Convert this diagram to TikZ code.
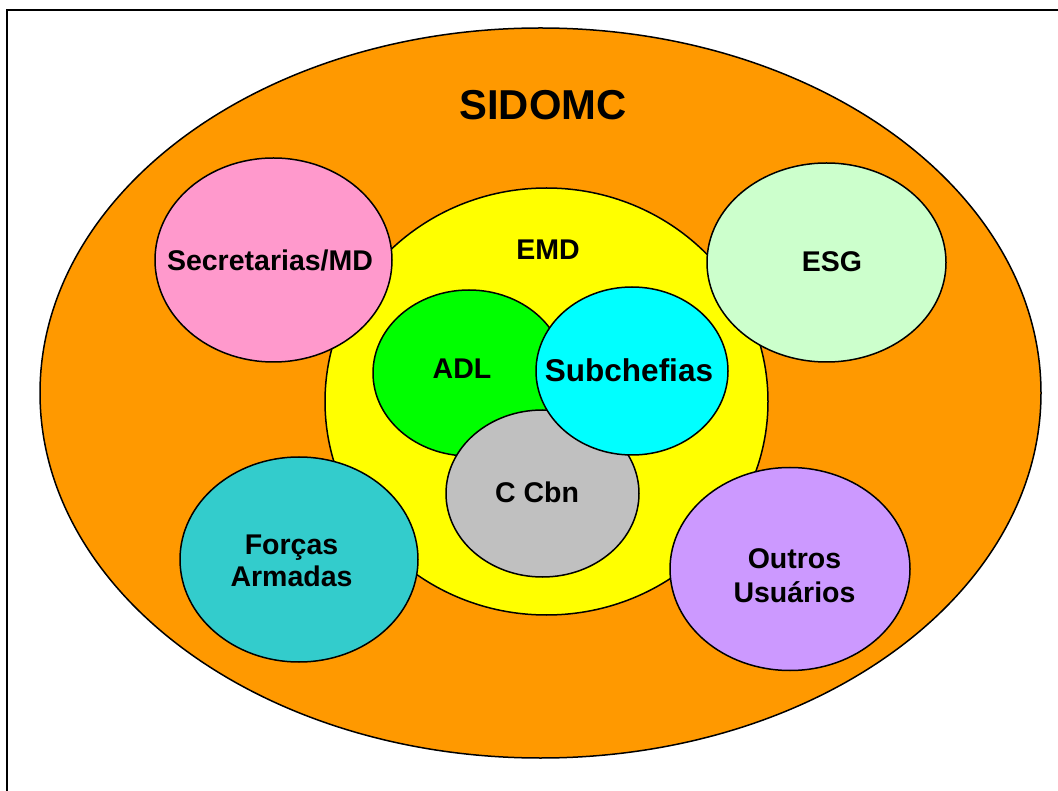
\documentclass[tikz,border=0pt]{standalone}
\usepackage{fontspec}
\setmainfont{Liberation Sans}
\usetikzlibrary{shapes.geometric}
\definecolor{cOrange}{HTML}{FF9900}
\definecolor{cYellow}{HTML}{FFFF00}
\definecolor{cPink}{HTML}{FF99CC}
\definecolor{cMint}{HTML}{CCFFCC}
\definecolor{cTeal}{HTML}{33CCCC}
\definecolor{cLilac}{HTML}{CC99FF}
\definecolor{cGreen}{HTML}{00FF00}
\definecolor{cCyan}{HTML}{00FFFF}
\definecolor{cGray}{HTML}{C0C0C0}
\tikzset{
  blob/.style={ellipse, draw=black, line width=1.5pt, inner sep=0pt, outer sep=0pt},
  lbl/.style={anchor=base, inner sep=0pt, font=\fontsize{28.5}{34}\selectfont\bfseries},
  biglbl/.style={anchor=base, inner sep=0pt, font=\fontsize{31.5}{38}\selectfont\bfseries},
  titlelbl/.style={anchor=base, inner sep=0pt, font=\fontsize{41.8}{50}\selectfont\bfseries}
}
\begin{document}
\begin{tikzpicture}[x=1pt,y=-1pt]
\useasboundingbox (0,0) rectangle (1058,791);
% frame
\coordinate (fbl) at (7,791);
\coordinate (ftl) at (7,10);
\coordinate (ftr) at (1058,10);
\draw[line width=2pt] (fbl) -- (ftl) -- (ftr);
% outer
\node[blob, fill=cOrange, minimum width=1001pt, minimum height=730pt] (sidomc) at (540.5,393) {};
\node[titlelbl] (tsidomc) at (543,120) {SIDOMC};
% EMD
\node[blob, fill=cYellow, minimum width=443pt, minimum height=427pt] (emd) at (546.5,401.5) {};
\node[lbl] (temd) at (548,260) {EMD};
% surrounding
\node[blob, fill=cPink, minimum width=237pt, minimum height=204pt] (sec) at (273.5,260) {};
\node[lbl] (tsec) at (270,271) {Secretarias/MD};
\node[blob, fill=cMint, minimum width=239pt, minimum height=199pt] (esg) at (826.5,262.5) {};
\node[lbl] (tesg) at (832,272) {ESG};
\node[blob, fill=cTeal, minimum width=238pt, minimum height=205pt] (fa) at (299,559.5) {};
\node[lbl] (tfa1) at (291.5,554) {Forças};
\node[lbl] (tfa2) at (291.5,586) {Armadas};
\node[blob, fill=cLilac, minimum width=240pt, minimum height=203pt] (ou) at (790,569) {};
\node[lbl] (tou1) at (794.5,568) {Outros};
\node[lbl] (tou2) at (794.5,602) {Usuários};
% inner
\node[blob, fill=cGreen, minimum width=192pt, minimum height=166pt] (adl) at (469,373) {};
\node[lbl] (tadl) at (462,379) {ADL};
\node[blob, fill=cGray, minimum width=193pt, minimum height=167pt] (ccbn) at (542.5,493.5) {};
\node[lbl] (tccbn) at (537,503) {C Cbn};
\node[blob, fill=cCyan, minimum width=192pt, minimum height=168pt] (sub) at (632,371) {};
\node[biglbl] (tsub) at (629,382) {Subchefias};
\end{tikzpicture}
\end{document}
